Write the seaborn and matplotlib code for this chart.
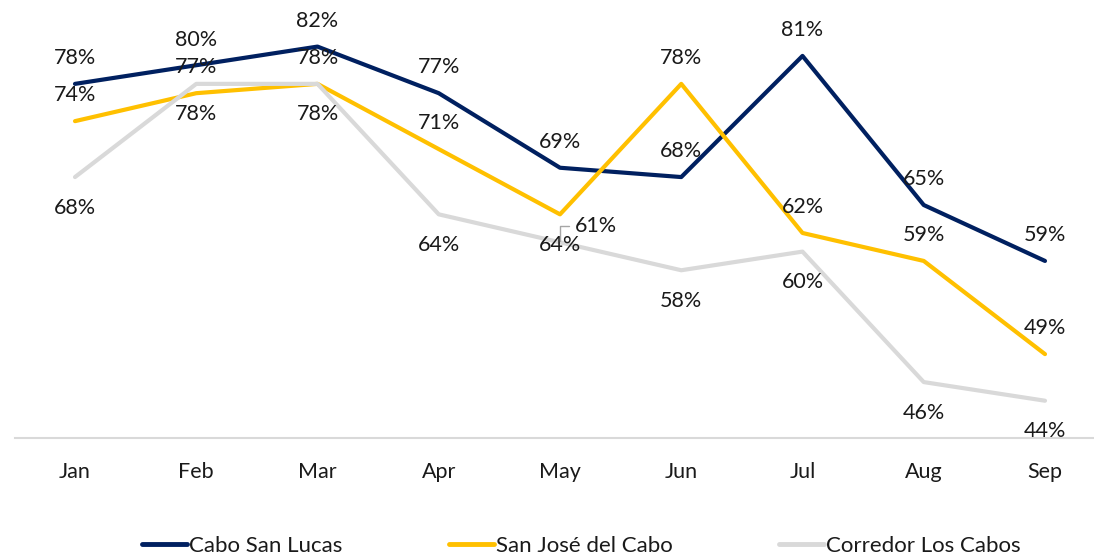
import matplotlib
matplotlib.use("Agg")
import matplotlib.pyplot as plt
import seaborn as sns
import pandas as pd

months = ["Jan", "Feb", "Mar", "Apr", "May", "Jun", "Jul", "Aug", "Sep"]
cabo_san_lucas = [78, 80, 82, 77, 69, 68, 81, 65, 59]
san_jose_del_cabo = [74, 77, 78, 71, 64, 78, 62, 59, 49]
corredor_los_cabos = [68, 78, 78, 64, 61, 58, 60, 46, 44]
series_names = ["Cabo San Lucas", "San José del Cabo", "Corredor Los Cabos"]
series_values = [cabo_san_lucas, san_jose_del_cabo, corredor_los_cabos]
colors = ["#002060", "#FFC000", "#D9D9D9"]

rows = []
for name, vals in zip(series_names, series_values):
    for i, (m, v) in enumerate(zip(months, vals)):
        rows.append({"idx": i, "month": m, "value": v, "series": name})
df = pd.DataFrame(rows)

sns.set_theme(style="white")
plt.rcParams["font.family"] = ["Lato", "DejaVu Sans"]
text_color = "#1a1a1a"

fig = plt.figure(figsize=(10.94, 5.60), dpi=100)
ax = fig.add_axes([15 / 1094, 1 - 438 / 560, 1 - 15 / 1094, 438 / 560])

sns.lineplot(data=df, x="idx", y="value", hue="series", hue_order=series_names,
             palette=colors, linewidth=3, ax=ax, legend=False, sort=False)

ax.set_xlim(-60 / 121.25, 8 + 49 / 121.25)
ax.set_ylim(40, 87)
ax.set_xticks(range(len(months)))
ax.set_xticklabels(months, fontsize=15.5, color=text_color)
ax.tick_params(axis="x", length=0, pad=17)
ax.set_yticks([])
for s in ["top", "right", "left"]:
    ax.spines[s].set_visible(False)
ax.spines["bottom"].set_color("#D9D9D9")
ax.spines["bottom"].set_linewidth(1.5)
ax.set_xlabel("")
ax.set_ylabel("")

fs = 15.5
# label placement: +1 above, -1 below, 0 offset with leader line
placement = {
    "Cabo San Lucas": [1] * 9,
    "San José del Cabo": [1, 1, 1, 1, -1, 1, 1, 1, 1],
    "Corredor Los Cabos": [-1, -1, -1, -1, 0, -1, -1, -1, -1],
}
for name, vals in zip(series_names, series_values):
    for i, v in enumerate(vals):
        p = placement[name][i]
        if p == 1:
            ax.annotate(f"{v}%", (i, v), xytext=(0, 18.5), textcoords="offset points",
                        ha="center", va="center", fontsize=fs, color=text_color)
        elif p == -1:
            ax.annotate(f"{v}%", (i, v), xytext=(0, -22), textcoords="offset points",
                        ha="center", va="center", fontsize=fs, color=text_color)
        else:
            ax.annotate(f"{v}%", (i, v), xytext=(11, 12), textcoords="offset points",
                        ha="left", va="center", fontsize=fs, color=text_color,
                        arrowprops=dict(arrowstyle="-", color="#A6A6A6", lw=1,
                                        shrinkA=2, shrinkB=1,
                                        connectionstyle="angle,angleA=0,angleB=90,rad=0"))

handles = [plt.Line2D([], [], color=c, lw=3.5) for c in colors]
fig.legend(handles, series_names, loc="center", bbox_to_anchor=(0.5315, 1 - 546 / 560),
           ncol=3, frameon=False, fontsize=16, handlelength=2.0, handletextpad=0.1,
           columnspacing=4.8, labelcolor=text_color)

fig.savefig("out.png", dpi=100)
